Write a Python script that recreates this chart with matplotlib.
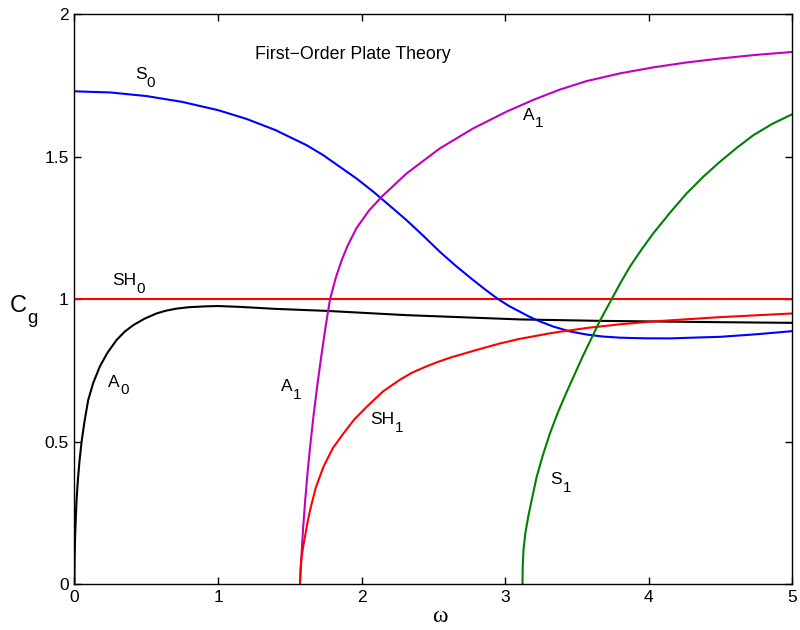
import matplotlib
matplotlib.use('Agg')
import matplotlib.pyplot as plt

plt.rcParams['font.family'] = ['Liberation Sans', 'DejaVu Sans']

# group velocity branches, read along omega
s0_w = [0, 0.25, 0.5, 0.75, 1.0, 1.2, 1.4, 1.617, 1.73, 1.849, 1.965, 2.081,
        2.2, 2.313, 2.43, 2.545, 2.66, 2.777, 2.86, 2.951, 3.03, 3.102, 3.17,
        3.242, 3.334, 3.45, 3.567, 3.68, 3.80, 3.97, 4.147, 4.3, 4.495, 4.75,
        5.0]
s0_cg = [1.729, 1.725, 1.7125, 1.692, 1.663, 1.632, 1.593, 1.540, 1.506,
         1.464, 1.423, 1.377, 1.326, 1.277, 1.222, 1.166, 1.115, 1.067, 1.034,
         1.0, 0.975, 0.956, 0.938, 0.922, 0.904, 0.887, 0.876, 0.869, 0.865,
         0.8628, 0.8625, 0.865, 0.868, 0.877, 0.888]

a0_w = [0, 0.001, 0.004, 0.008, 0.015, 0.025, 0.035, 0.05, 0.07, 0.096, 0.13,
        0.178, 0.23, 0.294, 0.35, 0.41, 0.49, 0.572, 0.64, 0.712, 0.8, 0.92,
        1.0, 1.153, 1.4, 1.756, 2.313, 3.102, 3.66, 4.36, 5.0]
a0_cg = [0, 0.07, 0.15, 0.21, 0.296, 0.37, 0.43, 0.5, 0.57, 0.646, 0.705,
         0.765, 0.812, 0.857, 0.886, 0.909, 0.932, 0.950, 0.960, 0.967, 0.972,
         0.975, 0.976, 0.973, 0.966, 0.959, 0.944, 0.929, 0.924, 0.920, 0.917]

a1_w = [1.571, 1.576, 1.581, 1.593, 1.608, 1.625, 1.645, 1.667, 1.692, 1.719,
        1.748, 1.78, 1.82, 1.86, 1.90, 1.965, 2.05, 2.139, 2.313, 2.545,
        2.777, 3.01, 3.20, 3.38, 3.567, 3.80, 4.031, 4.26, 4.495, 4.75, 5.0]
a1_cg = [0, 0.05, 0.1, 0.2, 0.3, 0.4, 0.5, 0.6, 0.7, 0.8, 0.9, 1.0, 1.075,
         1.135, 1.185, 1.25, 1.31, 1.359, 1.441, 1.529, 1.599, 1.658, 1.700,
         1.735, 1.765, 1.792, 1.813, 1.830, 1.844, 1.857, 1.867]

sh0_w = [0, 5.0]
sh0_cg = [1.0, 1.0]

sh1_w = [1.571, 1.573, 1.576, 1.58, 1.586, 1.594, 1.61, 1.625, 1.641, 1.68,
         1.734, 1.80, 1.873, 1.95, 2.036, 2.15, 2.268, 2.35, 2.44, 2.52,
         2.617, 2.80, 2.965, 3.102, 3.33, 3.567, 3.80, 4.031, 4.495, 5.0]
sh1_cg = [0, 0.04, 0.064, 0.085, 0.11, 0.135, 0.18, 0.222, 0.26, 0.338,
          0.412, 0.478, 0.529, 0.579, 0.623, 0.677, 0.718, 0.742, 0.762,
          0.778, 0.795, 0.822, 0.845, 0.861, 0.882, 0.899, 0.912, 0.922,
          0.937, 0.950]

s1_w = [3.12, 3.1215, 3.127, 3.14, 3.16, 3.186, 3.219, 3.26, 3.311, 3.37,
        3.428, 3.54, 3.66, 3.741, 3.80, 3.868, 3.95, 4.031, 4.15, 4.263, 4.38,
        4.495, 4.61, 4.727, 4.86, 5.0]
s1_cg = [0, 0.06, 0.12, 0.18, 0.237, 0.30, 0.377, 0.45, 0.529, 0.607, 0.675,
         0.80, 0.925, 1.0, 1.055, 1.114, 1.175, 1.231, 1.305, 1.371, 1.43,
         1.482, 1.53, 1.575, 1.615, 1.649]

# mode labels: (name, subscript, omega, cg)
labels = [
    ('S', '0', 0.42, 1.772),
    ('SH', '0', 0.261, 1.049),
    ('A', '1', 3.121, 1.630),
    ('A', '0', 0.235, 0.693),
    ('A', '1', 1.438, 0.678),
    ('SH', '1', 2.058, 0.562),
    ('S', '1', 3.316, 0.351),
]


def sub_text(ax, x, y, base, sub, size, sub_size, drop, coords=None, **kw):
    """Base text with a lowered subscript placed right after it."""
    if coords is None:
        coords = ax.transData
    t = ax.text(x, y, base, fontsize=size, ha='left', va='baseline',
                transform=coords, **kw)
    ax.annotate(sub, xy=(1, 0), xycoords=t, xytext=(0.3, -drop),
                textcoords='offset points', fontsize=sub_size,
                ha='left', va='baseline', annotation_clip=False, **kw)
    return t


fig = plt.figure(figsize=(8, 6.3), dpi=100)
ax = fig.add_axes([0.093, 0.0725, 0.8976, 0.9052])

lw = 1.5
ax.plot(sh0_w, sh0_cg, color='#ff0000', lw=lw)
ax.plot(a0_w, a0_cg, color='black', lw=lw)
ax.plot(s0_w, s0_cg, color='#0000ff', lw=lw)
ax.plot(a1_w, a1_cg, color='#bf00bf', lw=lw)
ax.plot(sh1_w, sh1_cg, color='#ff0000', lw=lw)
ax.plot(s1_w, s1_cg, color='#008000', lw=lw)

for base, sub, x, y in labels:
    sub_text(ax, x, y, base, sub, 12.5, 11, 3.4)

ax.text(1.257, 1.844, 'First\u2212Order Plate Theory', fontsize=12.8,
        ha='left', va='baseline')

ax.set_xlim(0, 5)
ax.set_ylim(0, 2)
ax.set_xticks([0, 1, 2, 3, 4, 5])
ax.set_yticks([0, 0.5, 1, 1.5, 2])
ax.set_yticklabels(['0', '0.5', '1', '1.5', '2'])
ax.tick_params(direction='in', top=True, right=True, length=5, width=1,
               labelsize=12.5, pad=4)
for sp in ax.spines.values():
    sp.set_linewidth(1.0)

# y label C_g in figure coordinates, left of the tick labels
sub_text(ax, 0.0125, 0.5048, 'C', 'g', 17, 13.5, 4.0,
         coords=fig.transFigure)

ax.set_xlabel('\u03c9', fontsize=17, family='Liberation Serif')
ax.xaxis.set_label_coords(0.509, -0.057)
ax.xaxis.label.set_va('center')

fig.savefig('out.png', dpi=100)
